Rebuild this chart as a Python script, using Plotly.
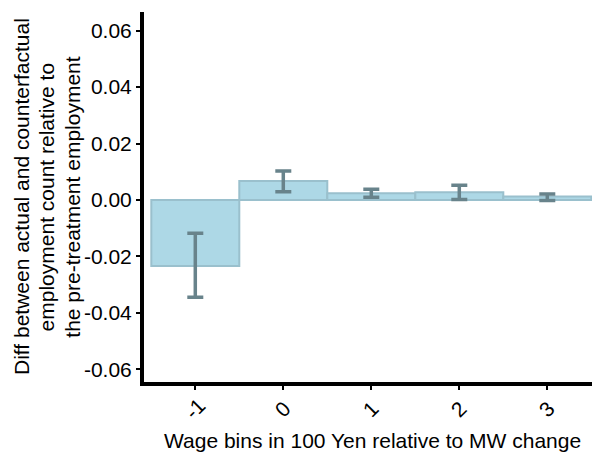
import plotly.graph_objects as go

# ---- data ----
bins = [-1, 0, 1, 2, 3]
bin_labels = ["-1", "0", "1", "2", "3"]
estimate = [-0.0234, 0.0067, 0.0024, 0.0027, 0.0012]
ci_upper = [-0.0118, 0.0103, 0.0038, 0.0052, 0.0021]
ci_lower = [-0.0345, 0.0029, 0.0010, 0.0002, -0.0002]
y_ticks = [-0.06, -0.04, -0.02, 0.00, 0.02, 0.04, 0.06]
y_tick_labels = ["-0.06", "-0.04", "-0.02", "0.00", "0.02", "0.04", "0.06"]
x_title = "Wage bins in 100 Yen relative to MW change"
y_title_lines = ["Diff between actual and counterfactual",
                 "employment count relative to",
                 "the pre-treatment employment"]

FONT = "Liberation Sans, Arial, Helvetica, sans-serif"
FS = 21
W, H = 592, 452
ML, MR, MT, MB = 144, 0, 12, 70
PW = W - ML - MR
PH = H - MT - MB

err_plus = [u - e for u, e in zip(ci_upper, estimate)]
err_minus = [e - l for e, l in zip(estimate, ci_lower)]

fig = go.Figure()
fig.add_trace(go.Bar(
    x=bins, y=estimate, width=1.0,
    marker=dict(color="#ADD8E6", line=dict(color="#9AC0CD", width=2)),
    error_y=dict(type="data", symmetric=False, array=err_plus, arrayminus=err_minus,
                 color="#68838B", thickness=3.5, width=8),
    showlegend=False,
))


def px_to_paper_x(px):
    return (px - ML) / PW


def px_to_paper_y(py):
    return (H - MB - py) / PH


annotations = []
# x tick labels (rotated, centred under each tick)
for b, lab in zip(bins, bin_labels):
    annotations.append(dict(
        x=b, xref="x", y=px_to_paper_y(409), yref="paper",
        text=lab, textangle=-45, showarrow=False,
        xanchor="center", yanchor="middle",
        font=dict(family=FONT, size=FS, color="black"),
    ))
# x axis title
annotations.append(dict(
    x=px_to_paper_x(372), xref="paper", y=px_to_paper_y(440.5), yref="paper",
    text=x_title, showarrow=False, xanchor="center", yanchor="middle",
    font=dict(family=FONT, size=FS, color="black"),
))
# y axis title, three lines
for line, cx in zip(y_title_lines, [21, 46.4, 71.7]):
    annotations.append(dict(
        x=px_to_paper_x(cx), xref="paper", y=0.5, yref="paper",
        text=line, textangle=-90, showarrow=False,
        xanchor="center", yanchor="middle",
        font=dict(family=FONT, size=FS, color="black"),
    ))

fig.update_layout(
    width=W, height=H,
    margin=dict(l=ML, r=MR, t=MT, b=MB, pad=0),
    plot_bgcolor="white", paper_bgcolor="white",
    font=dict(family=FONT, size=FS, color="black"),
    bargap=0,
    annotations=annotations,
    xaxis=dict(
        range=[-1.583, 3.508], tickvals=bins, showticklabels=False,
        ticks="outside", ticklen=4, tickwidth=2, tickcolor="black",
        showline=True, linewidth=4, linecolor="black",
        showgrid=False, zeroline=False, fixedrange=True,
    ),
    yaxis=dict(
        range=[-0.0645, 0.0666], tickvals=y_ticks, ticktext=y_tick_labels,
        ticks="outside", ticklen=4, tickwidth=2, tickcolor="black",
        tickfont=dict(family=FONT, size=FS, color="black"),
        showline=True, linewidth=4, linecolor="black",
        showgrid=False, zeroline=False, fixedrange=True,
    ),
)

fig.write_html(
    "out.html",
    config={"displayModeBar": False, "staticPlot": True},
    post_script="document.body.style.margin='0';document.body.style.overflow='hidden';",
)
